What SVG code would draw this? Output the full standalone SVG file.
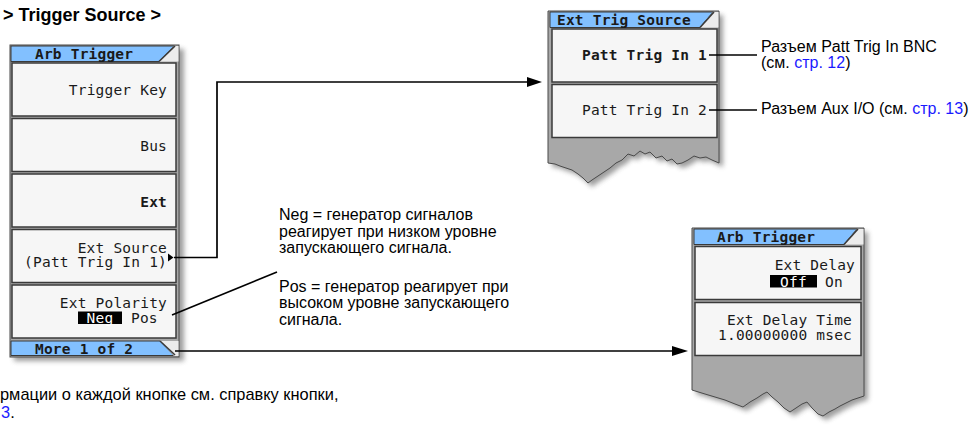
<svg xmlns="http://www.w3.org/2000/svg" width="970" height="428" viewBox="0 0 970 428">
<defs>
<filter id="sh" x="-20%" y="-20%" width="140%" height="140%"><feGaussianBlur stdDeviation="2.5"/></filter>
<style>
.frame{fill:#a8a8a8;stroke:#4a4a4a;stroke-width:1}
.shadow{fill:#6a6a6a;opacity:.65}
.btn{fill:#f6f6f6;stroke:#3a3a3a;stroke-width:1.5}
.bar{fill:#82c0ff;stroke:#3a3a3a;stroke-width:1}
.corner{fill:#ececec}
.slant{stroke:#3a3a3a;stroke-width:1.6;fill:none}
.ui{font-family:"DejaVu Sans Mono","Liberation Mono",monospace;font-size:14.5px;fill:#1a1a1a;letter-spacing:0.2px}
.b{font-weight:bold}
.end{text-anchor:end}
.mid{text-anchor:middle}
.inv{fill:#ffffff}
.lbl{font-family:"Liberation Sans",Arial,sans-serif;font-size:16px;fill:#000}
.link{fill:#1a1aff}
.wire{stroke:#000;stroke-width:1.7;fill:none}
.head{fill:#000}
</style>
</defs>
<rect width="970" height="428" fill="#ffffff"/>

<g id="breadcrumb">
<text x="3" y="21" style="font-family:'Liberation Sans',Arial,sans-serif;font-size:18px;font-weight:bold">&gt; Trigger Source &gt;</text>
</g>

<g id="panel-arb-trigger-left">
<rect class="shadow" x="14" y="49" width="170" height="312" filter="url(#sh)"/>
<rect class="frame" x="10" y="45" width="169" height="312"/>
<polygon class="bar" points="11,46 174,46 159,61.5 11,61.5"/>
<polygon class="corner" points="174,46 178.5,46 178.5,61.5 159,61.5"/>
<line class="slant" x1="159" y1="61.5" x2="175" y2="46"/>
<text class="ui b" x="35" y="59">Arb Trigger</text>
<g id="btn-trigger-key"><rect class="btn" x="12" y="63" width="164" height="53"/><text class="ui end" x="167" y="95">Trigger Key</text></g>
<g id="btn-bus"><rect class="btn" x="12" y="118.5" width="164" height="53"/><text class="ui end" x="167" y="151">Bus</text></g>
<g id="btn-ext"><rect class="btn" x="12" y="174" width="164" height="53"/><text class="ui b end" x="167" y="207">Ext</text></g>
<g id="btn-ext-source"><rect class="btn" x="12" y="229.5" width="164" height="53"/><text class="ui end" x="167" y="252.5">Ext Source</text><text class="ui end" x="167" y="267">(Patt Trig In 1)</text><polygon points="168,253.5 168,261.5 173.5,257.5" fill="#000"/></g>
<g id="btn-ext-polarity"><rect class="btn" x="12" y="285" width="164" height="53"/><text class="ui end" x="167" y="308">Ext Polarity</text><rect x="78" y="311.5" width="44" height="12.5" fill="#000"/><text class="ui inv mid" x="100" y="322.5">Neg</text><text class="ui" x="131" y="322.5">Pos</text></g>
<polygon class="bar" points="11,341 160,341 174,355.5 11,355.5"/>
<polygon class="corner" points="160,341 178.5,341 178.5,356 174,356"/>
<line class="slant" x1="160" y1="341" x2="175" y2="355"/>
<text class="ui b" x="35" y="354">More 1 of 2</text>
</g>

<g id="panel-ext-trig-source">
<path class="shadow" filter="url(#sh)" d="M552,15 L723,15 L723,167 L716,164 L710,161 L704,162 L698,160 L692,164 L686,167 L681,168 L676,163 L671,165 L666,160 L660,162 L654,156 L649,158 L644,155 L638,160 L632,158 L626,164 L620,167 L614,172 L608,176 L602,180 L596,184 L592,187 L587,182 L582,178 L576,174 L570,172 L564,170 L559,168 L552,167 Z"/>
<path class="frame" d="M548,11 L719,11 L719,163 L712,160 L706,157 L700,158 L694,156 L688,160 L682,163 L677,164 L672,159 L667,161 L662,156 L656,158 L650,152 L645,154 L640,151 L634,156 L628,154 L622,160 L616,163 L610,168 L604,172 L598,176 L592,180 L588,183 L583,178 L578,174 L572,170 L566,168 L560,166 L555,164 L548,163 Z"/>
<polygon class="bar" points="550,12 713,12 700,27.5 550,27.5"/>
<polygon class="corner" points="713,12 718.5,12 718.5,27.5 700,27.5"/>
<line class="slant" x1="700" y1="27.5" x2="714" y2="12"/>
<text class="ui b" x="557" y="25">Ext Trig Source</text>
<g id="btn-patt-trig-in-1"><rect class="btn" x="552" y="29" width="165" height="53"/><text class="ui b end" x="707" y="60">Patt Trig In 1</text></g>
<g id="btn-patt-trig-in-2"><rect class="btn" x="552" y="84.5" width="165" height="53"/><text class="ui end" x="707" y="115">Patt Trig In 2</text></g>
</g>

<g id="panel-arb-trigger-right">
<path class="shadow" filter="url(#sh)" d="M696,232 L868,232 L868,400 L856,404 L850,407 L844,410 L839,413 L833,416 L827,420 L822,418 L816,412 L811,406 L806,408 L800,412 L794,416 L788,412 L782,406 L776,401 L771,396 L767,398 L761,402 L754,406 L747,411 L739,408 L729,404 L719,401 L709,398 L696,394 Z"/>
<path class="frame" d="M692,228 L864,228 L864,396 L852,400 L846,403 L840,406 L835,409 L829,412 L823,416 L818,414 L812,408 L807,402 L802,404 L796,408 L790,412 L784,408 L778,402 L772,397 L767,392 L763,394 L757,398 L750,402 L743,407 L735,404 L725,400 L715,397 L705,394 L692,390 Z"/>
<polygon class="bar" points="694,229 857,229 844,244.5 694,244.5"/>
<polygon class="corner" points="857,229 863.5,229 863.5,244.5 844,244.5"/>
<line class="slant" x1="844" y1="244.5" x2="858" y2="229"/>
<text class="ui b" x="717" y="242">Arb Trigger</text>
<g id="btn-ext-delay"><rect class="btn" x="695" y="246.5" width="166" height="53"/><text class="ui end" x="855" y="270">Ext Delay</text><rect x="770" y="275" width="47" height="12.5" fill="#000"/><text class="ui inv mid" x="793.5" y="286.5">Off</text><text class="ui" x="825" y="286.5">On</text></g>
<g id="btn-ext-delay-time"><rect class="btn" x="695" y="302.5" width="166" height="53"/><text class="ui end" x="852" y="325">Ext Delay Time</text><text class="ui end" x="852" y="340">1.00000000 msec</text></g>
</g>

<g id="note-polarity">
<text class="lbl" x="279" y="220">Neg = генератор сигналов</text>
<text class="lbl" x="279" y="237">реагирует при низком уровне</text>
<text class="lbl" x="279" y="253">запускающего сигнала.</text>
<text class="lbl" x="279" y="292">Pos = генератор реагирует при</text>
<text class="lbl" x="279" y="308">высоком уровне запускающего</text>
<text class="lbl" x="279" y="325">сигнала.</text>
</g>

<g id="note-patt-trig-in-1">
<text class="lbl" x="761" y="52">Разъем Patt Trig In BNC</text>
<text class="lbl" x="761" y="68">(см. <tspan class="link">стр. 12</tspan>)</text>
</g>
<g id="note-patt-trig-in-2">
<text class="lbl" x="761" y="114">Разъем Aux I/O (см. <tspan class="link">стр. 13</tspan>)</text>
</g>

<g id="note-help">
<text class="lbl" x="0" y="400" style="font-size:16.4px">рмации о каждой кнопке см. справку кнопки,</text>
<text class="lbl" x="1" y="418" style="font-size:16.4px"><tspan class="link">3</tspan>.</text>
</g>

<g id="connectors">
<polyline class="wire" points="174,257.5 217,257.5 217,82 529,82"/>
<polygon class="head" points="542,82 527,77 527,87"/>
<line class="wire" x1="172" y1="315" x2="277" y2="272"/>
<line class="wire" x1="175" y1="351" x2="675" y2="351"/>
<polygon class="head" points="688,351 672,346 672,356"/>
<line class="wire" x1="709" y1="55" x2="757" y2="55"/>
<line class="wire" x1="709" y1="110" x2="757" y2="110"/>
</g>
</svg>
